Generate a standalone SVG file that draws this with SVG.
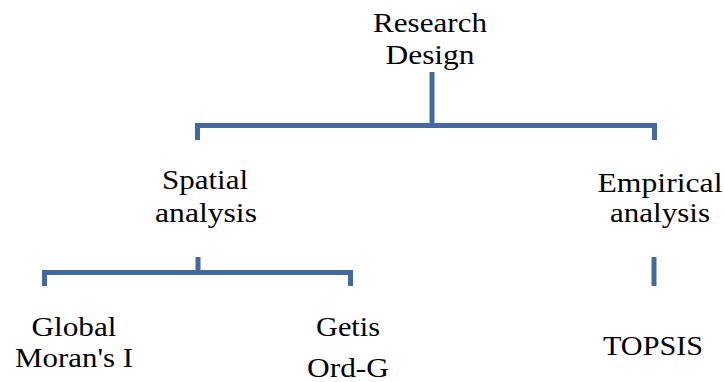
<svg xmlns="http://www.w3.org/2000/svg" width="724" height="382" viewBox="0 0 724 382">
<style>
text{font-family:"Liberation Serif","Times New Roman",serif;font-size:27px;fill:#000;text-anchor:middle}
.c{fill:none;stroke:#44699d;stroke-width:5;stroke-linecap:butt;stroke-linejoin:miter}
</style>
<rect width="724" height="382" fill="#fff"/>
<g id="connectors">
<path class="c" d="M432,72 V125"/>
<path class="c" d="M197.5,140 V125.5 H654.5 V140"/>
<path class="c" d="M198,257 V272"/>
<path class="c" d="M44.5,286 V272.5 H350.5 V286"/>
<path class="c" d="M654,257 V286"/>
</g>
<g id="research-design">
<text x="430" y="32" textLength="114" lengthAdjust="spacingAndGlyphs">Research</text>
<text x="430" y="64" textLength="89" lengthAdjust="spacingAndGlyphs">Design</text>
</g>
<g id="spatial-analysis">
<text x="205" y="189" textLength="86" lengthAdjust="spacingAndGlyphs">Spatial</text>
<text x="206" y="222" textLength="102" lengthAdjust="spacingAndGlyphs">analysis</text>
</g>
<g id="empirical-analysis">
<text x="660" y="192" textLength="125" lengthAdjust="spacingAndGlyphs">Empirical</text>
<text x="660" y="222" textLength="100" lengthAdjust="spacingAndGlyphs">analysis</text>
</g>
<g id="global-morans-i">
<text x="74" y="336" textLength="85" lengthAdjust="spacingAndGlyphs">Global</text>
<text x="74" y="367" textLength="118" lengthAdjust="spacingAndGlyphs">Moran's I</text>
</g>
<g id="getis-ord-g">
<text x="348" y="336" textLength="64" lengthAdjust="spacingAndGlyphs">Getis</text>
<text x="348" y="377" textLength="82" lengthAdjust="spacingAndGlyphs">Ord-G</text>
</g>
<g id="topsis">
<text x="653" y="355" textLength="100" lengthAdjust="spacingAndGlyphs">TOPSIS</text>
</g>
</svg>
